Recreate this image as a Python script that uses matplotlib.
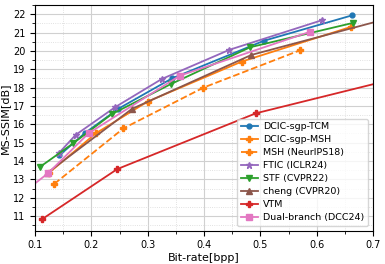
import numpy as np
import matplotlib
matplotlib.use("Agg")
import matplotlib.pyplot as plt
from matplotlib.ticker import AutoMinorLocator

# dados (bpp, MS-SSIM dB)
tcm_x = [0.143, 0.188, 0.248, 0.343, 0.506, 0.662]
tcm_y = [14.30, 15.51, 16.85, 18.50, 20.55, 21.93]

sgp_msh_x = [0.125, 0.208, 0.300, 0.467, 0.660]
sgp_msh_y = [13.36, 15.51, 17.24, 19.42, 21.30]

msh_x = [0.134, 0.257, 0.399, 0.571]
msh_y = [12.75, 15.78, 18.00, 20.04]

ftic_x = [0.142, 0.172, 0.242, 0.325, 0.445, 0.609]
ftic_y = [14.42, 15.42, 16.93, 18.47, 20.06, 21.67]

stf_x = [0.108, 0.168, 0.236, 0.341, 0.482, 0.665]
stf_y = [13.66, 14.97, 16.55, 18.19, 20.20, 21.53]

cheng_x = [0.121, 0.272, 0.484, 0.780]
cheng_y = [13.33, 16.84, 19.78, 22.20]

vtm_x = [0.112, 0.246, 0.492, 0.760]
vtm_y = [10.82, 13.56, 16.60, 18.64]

dual_x = [0.080, 0.123, 0.195, 0.357, 0.588]
dual_y = [12.30, 13.33, 15.51, 18.65, 21.04]

series = [
    ("DCIC-sgp-TCM", tcm_x, tcm_y, "tab:blue", "o", "-", 3.5),
    ("DCIC-sgp-MSH", sgp_msh_x, sgp_msh_y, "tab:orange", "P", "-", 4.5),
    ("MSH (NeurIPS18)", msh_x, msh_y, "tab:orange", "P", "--", 4.5),
    ("FTIC (ICLR24)", ftic_x, ftic_y, "tab:purple", "*", "-", 5),
    ("STF (CVPR22)", stf_x, stf_y, "tab:green", "v", "-", 4),
    ("cheng (CVPR20)", cheng_x, cheng_y, "tab:brown", "^", "-", 4),
    ("VTM", vtm_x, vtm_y, "tab:red", "P", "-", 4),
    ("Dual-branch (DCC24)", dual_x, dual_y, "tab:pink", "s", "-", 5),
]

fig = plt.figure(figsize=(3.85, 2.64), dpi=100)
ax = fig.add_axes([0.091, 0.126, 0.878, 0.855])

for nome, xs, ys, cor, mk, ls, ms in series:
    ax.plot(xs, ys, color=cor, marker=mk, linestyle=ls, linewidth=1.3,
            markersize=ms, label=nome)

ax.set_xlim(0.1, 0.7)
ax.set_ylim(10.2, 22.5)
ax.set_yticks(np.arange(11, 23, 1))
ax.xaxis.set_minor_locator(AutoMinorLocator(2))
ax.yaxis.set_minor_locator(AutoMinorLocator(2))
ax.grid(which="major", color="#d0d0d0", linewidth=0.8)
ax.grid(which="minor", color="#d8d8d8", linewidth=0.6, linestyle=":")
ax.tick_params(labelsize=7)
ax.set_xlabel("Bit-rate[bpp]", fontsize=8, labelpad=2)
ax.set_ylabel("MS-SSIM[dB]", fontsize=8, labelpad=2)
ax.legend(loc="lower right", fontsize=6.8, handlelength=1.8,
          labelspacing=0.42, borderpad=0.4, handletextpad=0.6)

fig.savefig("out.png", dpi=100)
